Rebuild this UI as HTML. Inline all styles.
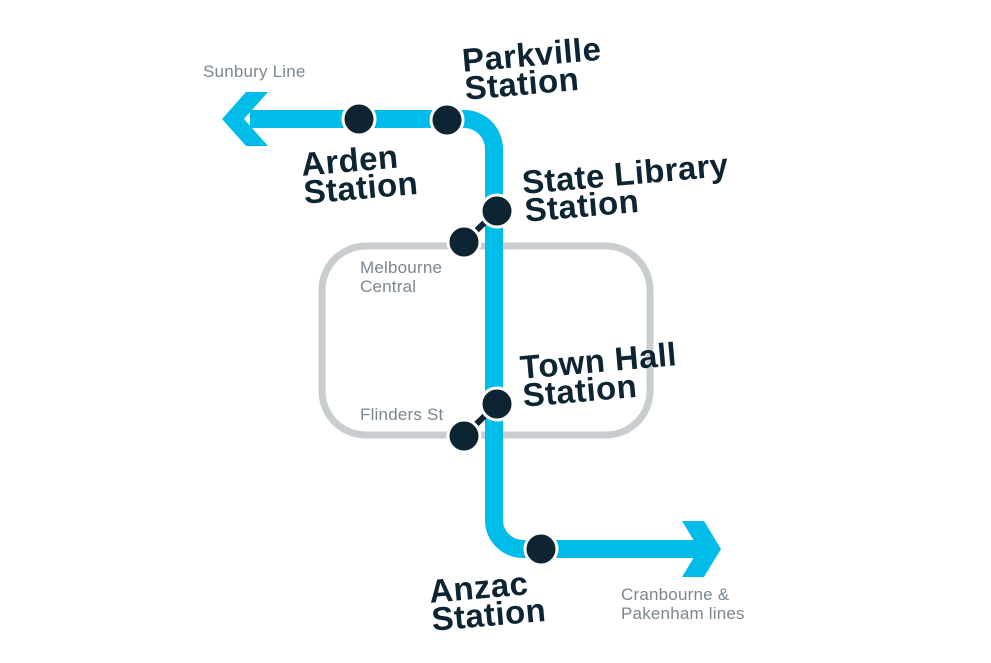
<!DOCTYPE html>
<html><head><style>
body{margin:0;background:#fff;width:991px;height:663px;overflow:hidden;position:relative;font-family:"Liberation Sans",sans-serif}
.s{position:absolute;color:#0d2533;font-weight:bold;font-size:33px;line-height:28px;letter-spacing:0.4px;transform:rotate(-5deg);transform-origin:left top;white-space:nowrap}
.g{position:absolute;color:#7a8790;font-size:17px;line-height:19px;letter-spacing:0.2px;white-space:nowrap}
</style></head><body>
<svg width="991" height="663" style="position:absolute;left:0;top:0">
<rect x="322" y="246" width="328" height="189" rx="44" fill="none" stroke="#c8cdd0" stroke-width="7"/>
<path d="M250 119 H464 A30 30 0 0 1 494 149 V520 A29 29 0 0 0 523 549 H700" fill="none" stroke="#00bce8" stroke-width="18"/>
<polygon points="222,119 246,92 268,92 244,119 268,146 246,146" fill="#00bce8"/>
<polygon points="682,521 704,521 721,549 704,577 682,577 699,549" fill="#00bce8"/>
<line x1="497" y1="211" x2="464" y2="242" stroke="#0d2533" stroke-width="6"/>
<line x1="497" y1="404" x2="464" y2="436" stroke="#0d2533" stroke-width="6"/>
<g fill="#0d2533" stroke="#fff" stroke-width="3">
<circle cx="359" cy="119" r="16"/><circle cx="447" cy="120" r="16"/>
<circle cx="497" cy="211" r="16"/><circle cx="464" cy="242" r="16"/>
<circle cx="497" cy="404" r="16"/><circle cx="464" cy="436" r="16"/>
<circle cx="541" cy="549" r="16"/>
</g>
</svg>
<div class="g" style="left:203px;top:62px">Sunbury Line</div>
<div class="g" style="left:360px;top:258px">Melbourne<br>Central</div>
<div class="g" style="left:360px;top:405px">Flinders St</div>
<div class="g" style="left:621px;top:605px;top:585px">Cranbourne &amp;<br>Pakenham lines</div>
<div class="s" style="left:461px;top:47px">Parkville<br>Station</div>
<div class="s" style="left:300px;top:151px">Arden<br>Station</div>
<div class="s" style="left:521px;top:169px">State Library<br>Station</div>
<div class="s" style="left:519px;top:354px">Town Hall<br>Station</div>
<div class="s" style="left:428px;top:578px">Anzac<br>Station</div>
</body></html>
